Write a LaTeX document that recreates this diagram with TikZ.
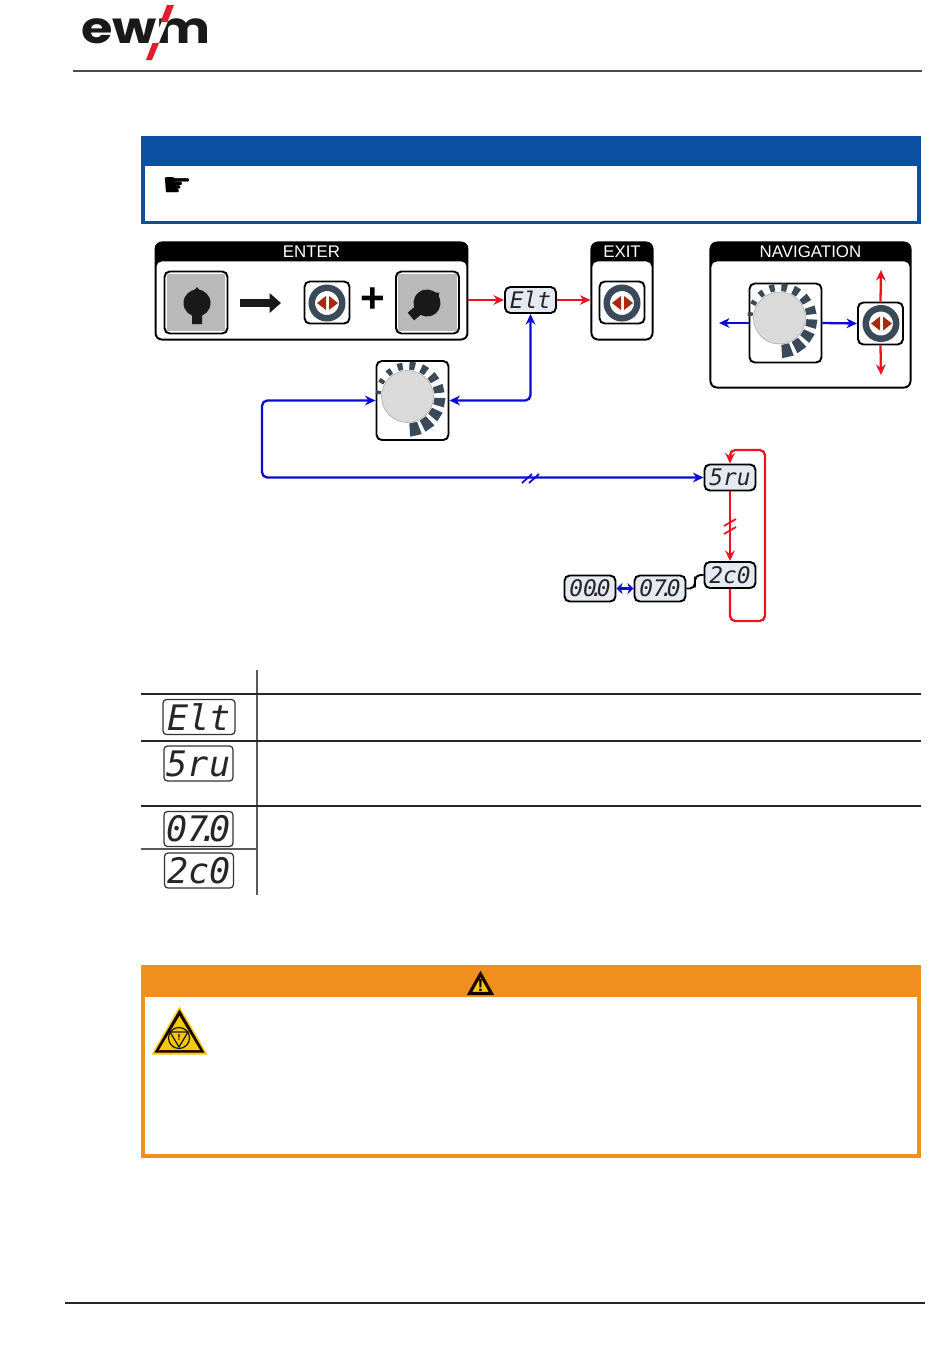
\documentclass[tikz,border=0pt]{standalone}
\usepackage{fontspec}
\setmainfont{Liberation Sans}
\newfontfamily\lcdfont{DejaVu Sans Mono}
\newfontfamily\symfont{DejaVu Sans}
\newfontfamily\logofont{Poppins}
\definecolor{ewmblue}{RGB}{11,79,160}
\definecolor{ewmorange}{RGB}{241,143,30}
\definecolor{ewmred}{RGB}{226,30,45}
\definecolor{ringgray}{RGB}{58,74,88}
\definecolor{tribrown}{RGB}{165,42,16}
\definecolor{switchgray}{RGB}{185,185,185}
\definecolor{knobgray}{RGB}{218,218,218}
\definecolor{lcdfill}{RGB}{228,233,242}
\definecolor{warnyellow}{RGB}{248,200,0}
\definecolor{flowred}{RGB}{235,20,30}
\definecolor{flowblue}{RGB}{10,10,215}
\usetikzlibrary{arrows.meta,positioning,calc}
\newcommand{\panelfill}[1]{\fill[white, rounded corners=3pt] ($(#1.north west)+(2,20)$) rectangle ($(#1.south east)+(-2,-2)$);}
\begin{document}
\begin{tikzpicture}[x=0.02cm, y=-0.02cm,
  panelbox/.style={draw=black, fill=black, line width=0.6pt, rounded corners=4pt, inner sep=0pt, minimum height=1.96cm},
  headtext/.style={text=white, font=\fontsize{9.6}{10}\selectfont, inner sep=0pt},
  keybox/.style={draw=black, fill=white, line width=1.1pt, rounded corners=3pt, inner sep=0pt},
  btnbox/.style={keybox, minimum width=0.9cm, minimum height=0.84cm},
  dialbox/.style={keybox, minimum width=1.44cm, minimum height=1.58cm},
  switchbox/.style={keybox, minimum width=1.26cm, minimum height=1.24cm},
  lcdsmall/.style={keybox, fill=lcdfill, minimum width=1.02cm, minimum height=0.52cm,
    font=\lcdfont\itshape\fontsize{13}{13}\selectfont, text=black!85},
  lcdbig/.style={draw=black!80, fill=white, line width=0.7pt, rounded corners=2pt, inner sep=0pt,
    minimum width=1.38cm, minimum height=0.7cm, font=\lcdfont\itshape\fontsize{20}{20}\selectfont, text=black!85},
  redflow/.style={flowred, line width=1.3pt, rounded corners=3pt, -{Stealth[length=6pt, width=5.5pt]}},
  blueflow/.style={flowblue, line width=1.3pt, rounded corners=3pt, -{Stealth[length=6pt, width=5.5pt]}},
  tablerule/.style={black!85, line width=0.6pt},
  arrowring/.pic={
    \draw[ringgray, line width=3.7pt] (0,0) circle (15.25);
    \fill[tribrown] (-10,0) -- (-1,-7) -- (-1,7) -- cycle;
    \fill[tribrown] (11,0) -- (2,-7) -- (2,7) -- cycle;
  },
  turnknob/.pic={
    \fill[black!90] (0,0) circle (13.5);
    \fill[black!90] (-5,21) -- (5,21) -- (5,-10) -- (0,-16) -- (-5,-10) -- cycle;
  },
  dialring/.pic={
    \foreach \i in {0,...,11} {
      \pgfmathsetmacro{\a}{188+22.7*\i}
      \pgfmathsetmacro{\w}{3.5+0.45*\i}
      \pgfmathsetmacro{\r}{32+0.75*\i}
      \fill[ringgray] ({\a-\w}:27) -- ({\a-\w}:\r) -- ({\a+\w}:\r) -- ({\a+\w}:27) -- cycle;
    }
    \draw[black!35, fill=knobgray, line width=0.3pt] (0,0) circle (26);
  },
  warnsign/.pic={
    \fill[warnyellow] (0,-24) -- (28,24) -- (-28,24) -- cycle;
    \fill[black!90!red] (0,-21) -- (25,22) -- (-25,22) -- cycle;
    \fill[warnyellow] (0,-14.5) -- (20.5,19.5) -- (-20.5,19.5) -- cycle;
  }]

\useasboundingbox (0,0) rectangle (950,1360);

% Logo
\node[font=\logofont\bfseries\fontsize{25}{25}\selectfont, text=black!90, inner sep=0pt, xscale=1.16] (logo) at (146,31) {ewm};
\fill[white] (165,14) -- (171,14) -- (155,52) -- (149,52) -- cycle;
\fill[ewmred] (167,5) -- (174,5) -- (167.5,22) -- (160.5,22) -- cycle;
\fill[ewmred] (152.5,43) -- (159,43) -- (152,60) -- (146,60) -- cycle;

% Head and foot rules
\draw[black!70, line width=0.7pt] (73,71) -- (922,71);
\draw[black!85, line width=0.7pt] (65,1303) -- (925,1303);

% Note box
\node[draw=ewmblue, line width=2.2pt, minimum width=15.52cm, minimum height=1.7cm, inner sep=0pt] (notebox) at (531,180) {};
\node[fill=ewmblue, minimum width=15.6cm, minimum height=0.6cm, inner sep=0pt] (notehead) at (531,151) {};
\node[font=\symfont\fontsize{19}{19}\selectfont, inner sep=0pt] (hand) at (177,187) {☛};

% Enter panel
\node[panelbox, minimum width=6.26cm] (enter) at (311.5,291) {};
\panelfill{enter}
\node[headtext] (entertext) at (311.5,252) {ENTER};
\node[switchbox] (swoff) at (196,302.5) {};
\fill[switchgray] ($(swoff.north west)+(3,3)$) rectangle ($(swoff.south east)+(-3,-3)$);
\pic at (197,303) {turnknob};
\coordinate (fatl) at (240,303);
\coordinate (fatr) at (281,303);
\draw[black!90, line width=4.6pt, -{Triangle[width=11pt, length=6.5pt]}] (fatl) -- (fatr);
\node[btnbox] (btnenter) at (327,302.5) {};
\pic at (327,303) {arrowring};
\node[font=\bfseries\fontsize{24}{24}\selectfont, inner sep=0pt] (plus) at (373,300) {+};
\node[switchbox] (swon) at (427.5,302.5) {};
\fill[switchgray] ($(swon.north west)+(3,3)$) rectangle ($(swon.south east)+(-3,-3)$);
\pic[rotate=-50] at (427,303) {turnknob};

% Exit panel
\node[panelbox, minimum width=1.24cm] (exit) at (622,291) {};
\panelfill{exit}
\node[headtext] (exittext) at (622,252) {EXIT};
\node[btnbox] (btnexit) at (622,302.5) {};
\pic at (622,303) {arrowring};

% Navigation panel
\node[panelbox, minimum width=4.02cm, minimum height=2.92cm] (nav) at (810.5,315) {};
\panelfill{nav}
\node[headtext] (navtext) at (810.5,252) {NAVIGATION};
\node[dialbox] (dialnav) at (785.5,323) {};
\pic at ($(dialnav)+(-6,-5)$) {dialring};
\node[btnbox] (btnnav) at (880.5,323.5) {};
\pic at (881,323.5) {arrowring};
\coordinate (navl) at (719,323);
\coordinate (navup) at (881,270);
\coordinate (navdown) at (881,375);
\draw[blueflow] (dialnav.west) -- (navl);
\draw[blueflow] (dialnav.east) -- (btnnav.west);
\draw[redflow] (btnnav.north) -- (navup);
\draw[redflow] (btnnav.south) -- (navdown);

% Menu flow
\node[lcdsmall] (elt) at (530.5,300) {Elt};
\node[dialbox] (dialmid) at (412.5,400.5) {};
\pic at ($(dialmid)+(-5,-4)$) {dialring};
\node[lcdsmall] (srv) at (730,477.5) {5ru};
\node[lcdsmall] (zco) at (730,575) {2c0};
\node[lcdsmall] (val) at (660,588.5) {07\kern-.3em.\kern-.3em0};
\node[lcdsmall] (zero) at (590,588.5) {00\kern-.3em.\kern-.3em0};

\draw[redflow] (enter.east |- elt.west) -- (elt.west);
\draw[redflow] (elt.east) -- (exit.west |- elt.east);
\draw[blueflow, {Stealth[length=6pt, width=5.5pt]}-{Stealth[length=6pt, width=5.5pt]}] (dialmid.east) -| (elt.south);
\coordinate (bendl) at (262,440);
\draw[blueflow, {Stealth[length=6pt, width=5.5pt]}-{Stealth[length=6pt, width=5.5pt]}] (dialmid.west) -- (bendl |- dialmid.west) -- (bendl |- srv.west) -- (srv.west);
\draw[redflow] (srv.south) -- (zco.north);
\coordinate (loopr) at (765,535);
\coordinate (looptop) at (730,450);
\coordinate (loopbot) at (730,621);
\draw[redflow] (zco.south) -- (loopbot) -- (loopr |- loopbot) -- (loopr |- looptop) -- (looptop) -- (srv.north);
\coordinate (sbend) at (695,582);
\draw[black, line width=1.1pt, rounded corners=3pt] (val.east) -| (sbend) |- (zco.west);
\draw[flowblue, line width=1.6pt, {Stealth[length=3.5pt, width=6.5pt]}-{Stealth[length=3.5pt, width=6.5pt]}] (zero.east) -- (val.west);

% Break marks
\draw[flowblue, line width=1pt] (522,483) -- (532,474) (529,483) -- (539,474);
\draw[flowred, line width=1pt] (724,526) -- (736,519) (724,534) -- (736,527);

% Legend table
\draw[black!65, line width=0.8pt] (257,670) -- (257,895);
\draw[tablerule] (141,694) -- (921,694);
\draw[tablerule] (141,741) -- (921,741);
\draw[tablerule] (141,806) -- (921,806);
\draw[black!65, line width=0.6pt] (141,849) -- (257,849);
\node[lcdbig, minimum width=1.44cm] (tabelt) at (199,717) {Elt};
\node[lcdbig] (tabsrv) at (198.5,763.5) {5ru};
\node[lcdbig] (tabval) at (198.5,829) {07\kern-.3em.\kern-.3em0};
\node[lcdbig] (tabzco) at (199,870.5) {2c0};

% Warning box
\node[draw=ewmorange, line width=2.2pt, minimum width=15.52cm, minimum height=3.78cm, inner sep=0pt] (warnbox) at (531,1061.5) {};
\node[fill=ewmorange, minimum width=15.6cm, minimum height=0.64cm, inner sep=0pt] (warnhead) at (531,981) {};
\filldraw[fill=warnyellow, draw=black!90!red, line width=1.8pt] (480.5,974) -- (491.5,993.5) -- (469.5,993.5) -- cycle;
\node[font=\bfseries\fontsize{10}{10}\selectfont, inner sep=0pt] (warnmark) at (480.5,985.5) {!};
\pic at (179.5,1030.5) {warnsign};
\draw[black!90, line width=0.7pt] (179,1038) circle (10.5);
\draw[black!90, line width=0.7pt] (170,1032) -- (188,1032) -- (179,1047) -- cycle;
\node[font=\bfseries\fontsize{5}{5}\selectfont, inner sep=0pt] (stopmark) at (179,1037) {!};

\end{tikzpicture}
\end{document}
